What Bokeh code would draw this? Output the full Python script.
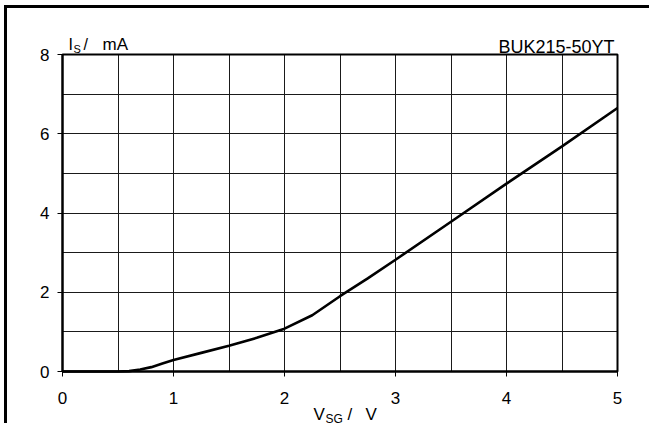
from bokeh.plotting import figure
from bokeh.models import Range1d, FixedTicker, Label, Grid, BoxAnnotation
from bokeh.embed import file_html
from bokeh.resources import INLINE

# ---- data ----
v_sg = [0.0, 0.5, 0.6, 0.7, 0.8, 0.9, 1.0, 1.25, 1.5, 1.75, 2.0, 2.25, 2.5, 2.75, 3.0, 3.5, 4.0, 4.5, 5.0]
i_s = [0.0, 0.0, 0.01, 0.05, 0.11, 0.2, 0.29, 0.47, 0.65, 0.85, 1.08, 1.42, 1.9, 2.35, 2.82, 3.78, 4.74, 5.68, 6.65]

x_ticks = [0, 1, 2, 3, 4, 5]
y_ticks = [0, 2, 4, 6, 8]
x_grid = [0, 0.5, 1, 1.5, 2, 2.5, 3, 3.5, 4, 4.5, 5]
y_grid = [0, 1, 2, 3, 4, 5, 6, 7, 8]
title_text = "BUK215-50YT"

FONT = "Liberation Sans"

# ---- layout (canvas pixels) ----
W, H = 645, 418
PL, PR, PT, PB = 55, 610, 46, 363          # plot box inside the canvas
x0, x1 = x_ticks[0], x_ticks[-1]
y0, y1 = y_ticks[0], y_ticks[-1]
sx = (PR - PL) / (x1 - x0)
sy = (PB - PT) / (y1 - y0)
x_range = Range1d(x0 - PL / sx, x1 + (W - PR) / sx)
y_range = Range1d(y0 - (H - PB) / sy, y1 + PT / sy)

p = figure(width=W, height=H, output_backend="svg", toolbar_location=None,
           x_range=x_range, y_range=y_range,
           min_border=0, min_border_left=0, min_border_right=0,
           min_border_top=0, min_border_bottom=0,
           background_fill_color="white", border_fill_color="white",
           styles={"margin-left": "4px", "margin-top": "5px",
                   "border-left": "3px solid black", "border-top": "3px solid black"})
p.outline_line_color = None

for ax in (p.xaxis[0], p.yaxis[0]):
    ax.axis_line_color = "black"
    ax.axis_line_width = 2
    ax.major_tick_line_color = "black"
    ax.major_tick_line_width = 1
    ax.major_tick_in = 0
    ax.major_tick_out = 5
    ax.minor_tick_line_color = None
    ax.major_label_text_font = FONT
    ax.major_label_text_font_size = "17px"
    ax.major_label_text_color = "black"

p.xaxis[0].ticker = FixedTicker(ticks=x_ticks)
p.yaxis[0].ticker = FixedTicker(ticks=y_ticks)
p.xaxis[0].fixed_location = y0
p.yaxis[0].fixed_location = x0
p.xaxis[0].bounds = (x0, x1)
p.yaxis[0].bounds = (y0, y1)
p.xaxis[0].major_label_standoff = 15
p.yaxis[0].major_label_standoff = 8

p.xgrid[0].ticker = FixedTicker(ticks=x_grid)
p.ygrid[0].ticker = FixedTicker(ticks=y_grid)
p.xgrid[0].bounds = (x0, x1)
p.ygrid[0].bounds = (y0, y1)
has_cross = "cross_bounds" in Grid.properties()
for g in (p.xgrid[0], p.ygrid[0]):
    g.grid_line_color = "#1a1a1a"
    g.grid_line_width = 1
    g.grid_line_alpha = 1
if has_cross:
    p.xgrid[0].cross_bounds = (y0, y1)
    p.ygrid[0].cross_bounds = (x0, x1)
else:
    for g in (p.xgrid[0], p.ygrid[0]):
        g.visible = False
    p.segment(x0=x_grid, x1=x_grid, y0=[y0] * len(x_grid), y1=[y1] * len(x_grid),
              line_color="#1a1a1a", line_width=1)
    p.segment(x0=[x0] * len(y_grid), x1=[x1] * len(y_grid), y0=y_grid, y1=y_grid,
              line_color="#1a1a1a", line_width=1)

# plot box border (top / right edges thicker than grid)
p.add_layout(BoxAnnotation(left=x0, right=x1, bottom=y0, top=y1, fill_color=None,
                           line_color="black", line_width=2, line_alpha=1, level="underlay"))

p.line(v_sg, i_s, line_color="black", line_width=2.6)

def lab(x, y, text, size, align="left"):
    p.add_layout(Label(x=x, y=y, x_units="canvas", y_units="canvas", text=text,
                       text_font=FONT, text_font_size=size, text_color="black",
                       text_align=align, text_baseline="middle"))

# y-axis title  I_S /  mA
lab(58, 33, "I", "16px")
lab(63, 37, "S", "11px")
lab(73, 33, "/", "16px")
lab(92, 32.6, "mA", "17px")

# x-axis title  V_SG /  V
lab(303, 403, "V", "17px")
lab(315, 407.5, "SG", "12px")
lab(337, 403, "/", "17px")
lab(355, 403, "V", "17px")

# device name
lab(604, 35, title_text, "18px", align="right")

open("out.html", "w").write(file_html(p, INLINE))
